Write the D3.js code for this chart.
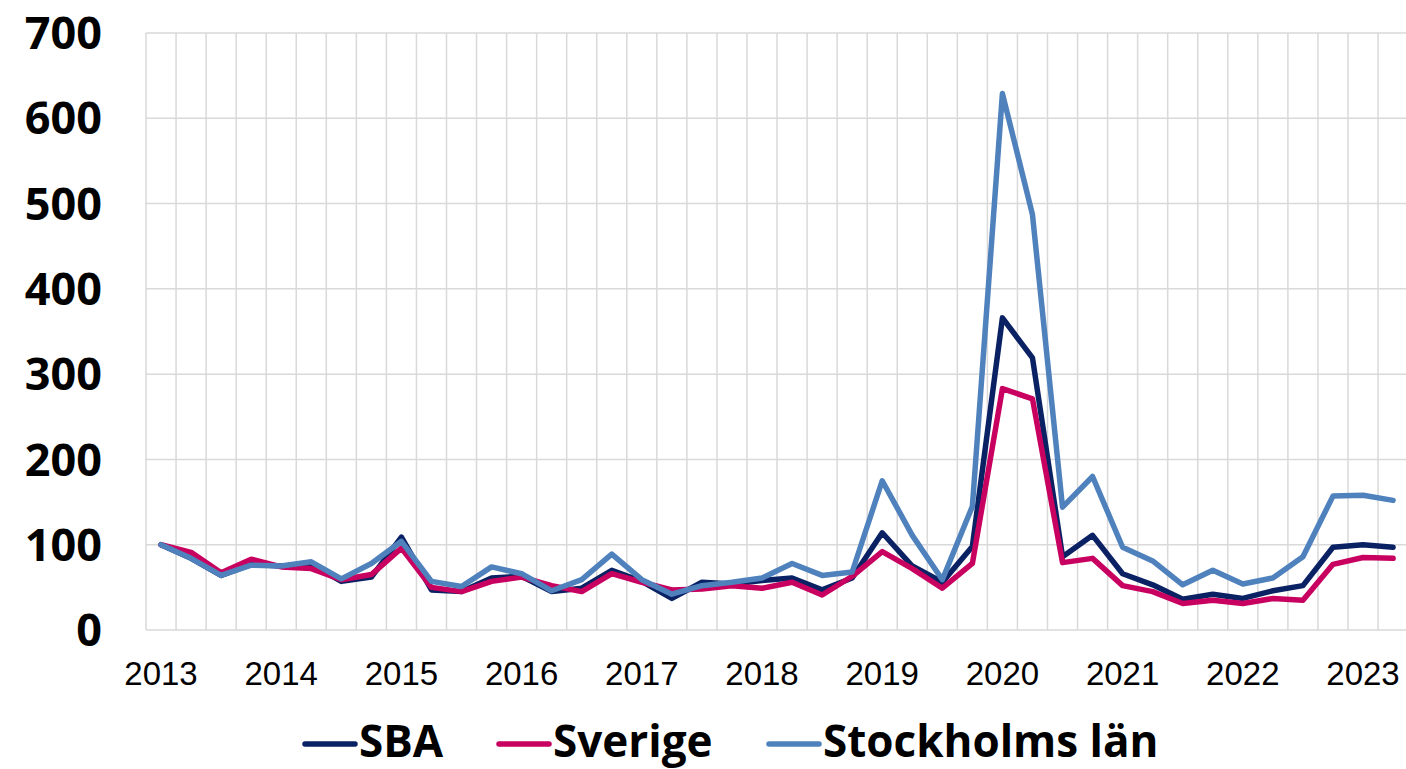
<!DOCTYPE html>
<html>
<head>
<meta charset="utf-8">
<script src="https://cdn.jsdelivr.net/npm/d3@7"></script>
<style>
  body { margin: 0; background: #fff; }
</style>
</head>
<body>
<div id="chart"></div>
<script>
// quarterly index, 2013 Q1 = 100
var quarters = ["2013","","","","2014","","","","2015","","","","2016","","","","2017","","","","2018","","","","2019","","","","2020","","","","2021","","","","2022","","","","2023",""];
var yTicks = [0, 100, 200, 300, 400, 500, 600, 700];
var seriesNames = ["SBA", "Sverige", "Stockholms län"];
var seriesColors = ["#0a2164", "#c8005f", "#4f81bd"];

var sba = [100,84,64,77,75,77,57,62,109,47,45,61,63,45,49,70,57,37,56,54,58,61,47,61,114,75,56,98,366,319,86,111,66,53,36,42,37,46,52,97,100,97];
var sverige = [100,91,67,83,74,72,59,65,96,50,45,57,62,52,45,66,56,47,48,52,49,56,41,63,92,72,49,78,283,271,79,84,52,45,31,35,31,37,35,77,85,84];
var stockholm = [100,84,64,76,75,80,60,78,104,57,51,74,66,46,59,89,59,42,52,56,61,78,64,68,175,111,59,145,629,487,144,180,97,81,53,70,54,61,86,157,158,152];

var allSeries = [sba, sverige, stockholm];

var margin = {top: 33, left: 146},
    bandW = 30.05,
    plotBottom = 630;

var svg = d3.select("#chart")
  .append("svg")
  .attr("width", 1406)
  .attr("height", 769);

var x = d3.scaleBand()
  .domain(d3.range(quarters.length))
  .range([margin.left, margin.left + bandW * quarters.length])
  .padding(0);

var y = d3.scaleLinear()
  .domain([0, 700])
  .range([plotBottom, margin.top]);

// gridlines
var grid = svg.append("g").attr("stroke", "#d9d9d9").attr("stroke-width", 1.5);
grid.selectAll("line.h")
  .data(yTicks)
  .enter().append("line")
  .attr("x1", margin.left).attr("x2", margin.left + bandW * quarters.length)
  .attr("y1", function(d) { return y(d); })
  .attr("y2", function(d) { return y(d); });
grid.selectAll("line.v")
  .data(d3.range(quarters.length + 1))
  .enter().append("line")
  .attr("x1", function(i) { return margin.left + i * x.bandwidth(); })
  .attr("x2", function(i) { return margin.left + i * x.bandwidth(); })
  .attr("y1", y(700)).attr("y2", y(0));

// Y axis labels
svg.append("g")
  .selectAll("text")
  .data(yTicks)
  .enter().append("text")
  .attr("x", 102)
  .attr("y", function(d) { return y(d); })
  .attr("dy", "0.36em")
  .attr("text-anchor", "end")
  .style("font-family", "'Open Sans', sans-serif")
  .style("font-weight", "bold")
  .style("font-size", "45px")
  .text(function(d) { return d; });

// X axis labels
svg.append("g")
  .selectAll("text")
  .data(quarters)
  .enter().append("text")
  .attr("x", function(d, i) { return x(i) + x.bandwidth() / 2; })
  .attr("y", 685)
  .attr("text-anchor", "middle")
  .style("font-family", "'Liberation Sans', sans-serif")
  .style("font-size", "33px")
  .style("fill", "#000")
  .text(function(d) { return d; });

// lines
var line = d3.line()
  .x(function(d, i) { return x(i) + x.bandwidth() / 2; })
  .y(function(d) { return y(d); });

svg.append("g")
  .selectAll("path")
  .data(allSeries)
  .enter().append("path")
  .attr("d", line)
  .attr("fill", "none")
  .attr("stroke", function(d, i) { return seriesColors[i]; })
  .attr("stroke-width", 5.5)
  .attr("stroke-linejoin", "round")
  .attr("stroke-linecap", "round");

// legend
var legendX = [303, 497, 767];
var legend = svg.append("g")
  .selectAll("g")
  .data(seriesNames)
  .enter().append("g")
  .attr("transform", function(d, i) { return "translate(" + legendX[i] + ",744)"; });
legend.append("line")
  .attr("x1", 2).attr("x2", 52)
  .attr("stroke", function(d, i) { return seriesColors[i]; })
  .attr("stroke-width", 5.5)
  .attr("stroke-linecap", "round");
legend.append("text")
  .attr("x", 56)
  .attr("y", -3)
  .attr("dy", "0.36em")
  .style("font-family", "'Open Sans', sans-serif")
  .style("font-weight", "bold")
  .style("font-size", "44px")
  .text(function(d) { return d; });
</script>
</body>
</html>
